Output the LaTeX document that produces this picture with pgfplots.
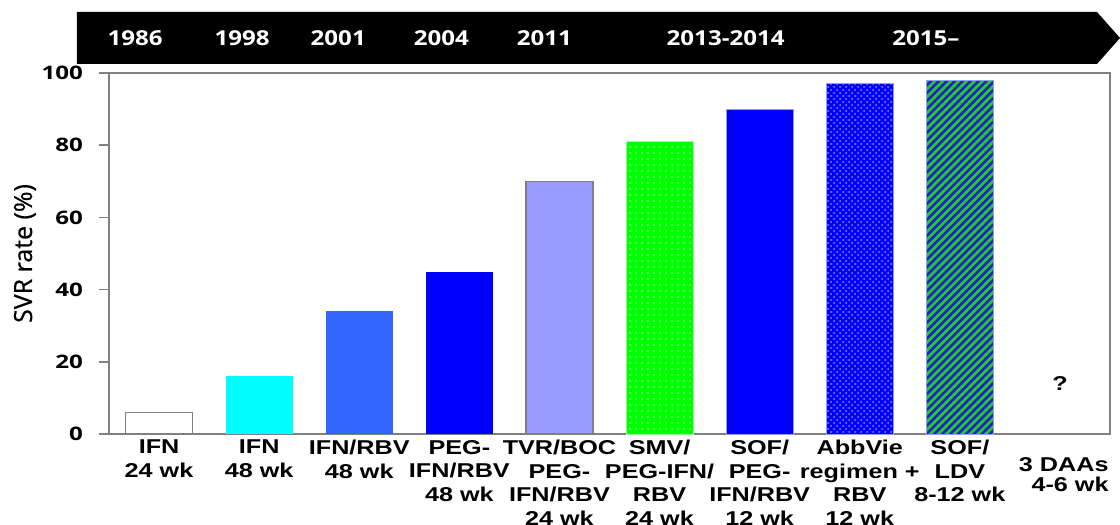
\documentclass[border=0pt]{standalone}
\usepackage{pgfplots}
\pgfplotsset{compat=1.18}
\usetikzlibrary{patterns,patterns.meta}
\usepackage{fontspec}
\setmainfont{Liberation Sans}
\newfontfamily\catfont{Liberation Sans}[FakeStretch=1.26]
\newfontfamily\tickfont{Open Sans}[FakeStretch=1.3]
\newfontfamily\yearfont{Open Sans}[FakeStretch=1.17]
\newfontfamily\ylabfont{Open Sans}[FakeBold=0.6]

\definecolor{cyanb}{RGB}{0,255,255}
\definecolor{midblue}{RGB}{51,102,255}
\definecolor{pureblue}{RGB}{0,0,255}
\definecolor{lavb}{RGB}{153,153,255}
\definecolor{pgreen}{RGB}{0,255,0}
\definecolor{axgray}{RGB}{128,128,128}
\definecolor{stripeblue}{RGB}{30,30,210}
\definecolor{stripegreen}{RGB}{40,200,40}

\begin{document}
\begin{tikzpicture}
\path[use as bounding box] (-54.5pt,-45.5pt) rectangle (505.5pt,217pt);
\begin{axis}[
 at={(0,0)}, anchor=south west,
 scale only axis, width=500.5pt, height=180.5pt,
 xmin=-0.5, xmax=9.5, ymin=0, ymax=100,
 ybar, bar width=0.67, bar shift=0pt,
 axis line style={axgray, line width=0.8pt},
 xtick={0,...,9},
 xticklabels={{IFN\\24 wk},{IFN\\48 wk},{IFN/RBV\\48 wk},{PEG-\\IFN/RBV\\48 wk},{TVR/BOC\\PEG-\\IFN/RBV\\24 wk},{SMV/\\PEG-IFN/\\RBV\\24 wk},{SOF/\\PEG-\\IFN/RBV\\12 wk},{AbbVie\\regimen +\\RBV\\12 wk},{SOF/\\LDV\\8-12 wk},{}},
 x tick style={draw=none},
 ytick={0,20,...,100},
 y tick style={axgray, line width=0.8pt},
 tick align=outside, tick pos=left, major tick length=5pt,
 /pgf/number format/assume math mode=true,
 yticklabel style={font=\tickfont\bfseries\fontsize{9.3}{11}\selectfont, xshift=-4.5pt},
 xticklabel style={font=\catfont\bfseries\fontsize{10}{11.75}\selectfont, align=center, anchor=north, yshift=5.5pt},
 ylabel={SVR rate (\%)},
 ylabel style={at={(rel axis cs:-0.084,0.5)}, anchor=center, font=\ylabfont\fontsize{12.5}{14}\selectfont},
 clip=false,
]
\addplot[draw=axgray, fill=white, line width=0.6pt] coordinates {(0,6)};
\addplot[draw=none, fill=cyanb] coordinates {(1,16)};
\addplot[draw=none, fill=midblue] coordinates {(2,34)};
\addplot[draw=none, fill=pureblue] coordinates {(3,45)};
\addplot[draw=axgray, fill=lavb, line width=0.6pt] coordinates {(4,70)};
\addplot[draw=white!60!pgreen, fill=pgreen, postaction={pattern=dots, pattern color=white!55!pgreen}] coordinates {(5,81)};
\addplot[draw=white!60!pureblue, fill=pureblue] coordinates {(6,90)};
\addplot[draw=white!60!pureblue, fill=pureblue, postaction={pattern=crosshatch dots, pattern color=white!55!pureblue}] coordinates {(7,97)};
\addplot[draw=white!60!pureblue, fill=stripeblue, postaction={pattern={Lines[angle=45,distance=2.8pt,line width=1.4pt]}, pattern color=stripegreen}] coordinates {(8,98)};

\node[font=\catfont\bfseries\fontsize{10}{11.75}\selectfont] at (axis cs:9,14) {?};
\node[font=\catfont\bfseries\fontsize{10}{10}\selectfont, align=right, anchor=north east, inner sep=0pt, yshift=-11.5pt] at (axis cs:9.49,0) {3 DAAs\\4-6 wk};

\fill[black] (axis cs:-0.82,102.5) -- (axis cs:9.37,102.5) -- (axis cs:9.6,109.7) -- (axis cs:9.37,116.9) -- (axis cs:-0.82,116.9) -- cycle;
\begin{scope}[every node/.style={text=white, font=\yearfont\bfseries\fontsize{10.3}{12}\selectfont}]
\node at (axis cs:-0.24,109.7) {1986};
\node at (axis cs:0.83,109.7) {1998};
\node at (axis cs:1.79,109.7) {2001};
\node at (axis cs:2.82,109.7) {2004};
\node at (axis cs:3.85,109.7) {2011};
\node at (axis cs:5.66,109.7) {2013-2014};
\node at (axis cs:7.66,109.7) {2015–};
\end{scope}
\end{axis}
\end{tikzpicture}
\end{document}
